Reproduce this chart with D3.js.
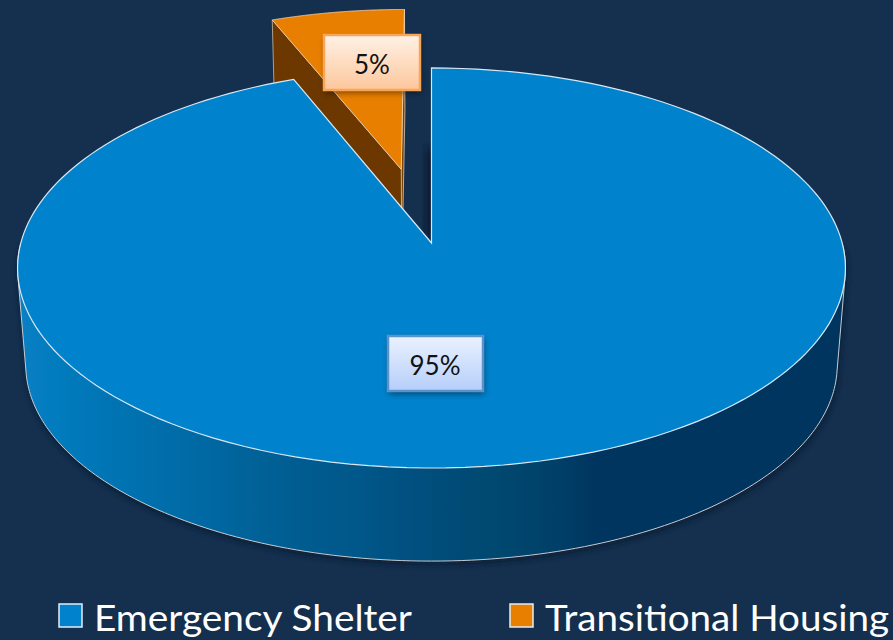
<!DOCTYPE html>
<html>
<head>
<meta charset="utf-8">
<title>Shelter share</title>
<style>
  html, body { margin: 0; padding: 0; background: #14304e; overflow: hidden; }
  text { font-family: Lato, "Open Sans", sans-serif; }
</style>
</head>
<body>
<script src="https://cdn.jsdelivr.net/npm/d3@7"></script>
<script>
// chart values
var categories = ["Emergency Shelter", "Transitional Housing"];
var shares = [95, 5];
var shareLabels = ["95%", "5%"];

var width = 893, height = 640;
var bg = "#14304e";

// projection of the tilted disc: model (u, v, z) -> screen
var cx = 431.5, cy = 243;
var persp = 0.125;      // foreshortening to the back
var spreadX = 1.243;    // the 3d rotation opens up angles near the top
var scaleX = 410.7, scaleY = 196.9;
var depth = 100, depthW = 0.02, tiltLoss = 12.2;
var explode = 0.40;

function project(u, v, z) {
  var w = 1 + persp * v + depthW * z;
  return [cx + scaleX * u / w, cy + (-(scaleY - tiltLoss * z) * v + depth * z) / w];
}
// d3 pie angle -> point on unit circle
function rim(a) {
  var s = Math.sin(a) * spreadX, c = Math.cos(a), n = Math.hypot(s, c);
  return [s / n, c / n];
}

var svg = d3.select("body").append("svg")
    .attr("width", width)
    .attr("height", height)
    .style("display", "block");

svg.append("rect").attr("width", width).attr("height", height).attr("fill", bg);

var defs = svg.append("defs");

function vGrad(id, top, bottom) {
  var g = defs.append("linearGradient").attr("id", id)
      .attr("x1", 0).attr("y1", 0).attr("x2", 0).attr("y2", 1);
  g.append("stop").attr("offset", 0).attr("stop-color", top);
  g.append("stop").attr("offset", 1).attr("stop-color", bottom);
}
vGrad("blueLabel", "#eaf2ff", "#b6cefa");
vGrad("orangeLabel", "#fff1e6", "#fdc79c");

var wallGrad = defs.append("linearGradient").attr("id", "wall")
    .attr("gradientUnits", "userSpaceOnUse")
    .attr("x1", 17).attr("y1", 0).attr("x2", 846).attr("y2", 0);
[[17, "#0a80c4"], [60, "#007bbd"], [130, "#0072b0"], [200, "#0069a4"], [255, "#006298"],
 [310, "#005b8f"], [360, "#005789"], [410, "#005080"], [450, "#004c78"], [500, "#00486f"],
 [560, "#003f68"], [595, "#00355f"], [846, "#00355f"]]
  .forEach(function(s) {
    wallGrad.append("stop").attr("offset", (s[0] - 17) / 829).attr("stop-color", s[1]);
  });

var f = defs.append("filter").attr("id", "soft")
    .attr("x", "-30%").attr("y", "-30%").attr("width", "160%").attr("height", "160%");
f.append("feGaussianBlur").attr("stdDeviation", 3);

var line = d3.line();
var pie = d3.pie().sort(null)
    .startAngle(0).endAngle(2 * Math.PI)
    .value(function(d) { return d; });

// first share runs clockwise from 12 o'clock, second one closes the circle
var arcs = pie(shares);
var main = arcs[0], small = arcs[1];

function sector(arc, du, dv, z) {
  var steps = d3.range(0, 181).map(function(i) {
    return arc.startAngle + (arc.endAngle - arc.startAngle) * i / 180;
  });
  var pts = [project(du, dv, z)];
  steps.forEach(function(a) {
    var p = rim(a);
    pts.push(project(p[0] + du, p[1] + dv, z));
  });
  return pts;
}

// exploded slice, moved along its own bisector
var mid = rim((small.startAngle + small.endAngle) / 2);
var du = mid[0] * explode, dv = mid[1] * explode;
var a0 = rim(small.startAngle), a1 = rim(small.endAngle);

function wallQuad(p) {
  return [project(du, dv, 0),
          project(p[0] + du, p[1] + dv, 0),
          project(p[0] + du, p[1] + dv, 1),
          project(du, dv, 1)];
}

// shadow inside the gap
svg.append("rect")
    .attr("x", 425).attr("y", 148)
    .attr("width", 8).attr("height", 90)
    .attr("fill", "#0c1f36")
    .attr("filter", "url(#soft)");

svg.append("path").attr("d", line(wallQuad(a1)) + "Z")
    .attr("fill", "#7a4300").attr("stroke", "#d9c8b4").attr("stroke-width", 0.8);
svg.append("path").attr("d", line(wallQuad(a0)) + "Z")
    .attr("fill", "#6c3800").attr("stroke", "#c9b9a5").attr("stroke-width", 0.8);
svg.append("path").attr("d", line(sector(small, du, dv, 0)) + "Z")
    .attr("fill", "#e97f00").attr("stroke", "#f4d8b8").attr("stroke-width", 0.8);

// front wall of the large slice
var wallPts = [];
d3.range(0, 361).forEach(function(i) {
  var a = i * Math.PI / 180, p = rim(a);
  if (p[1] < 0) {
    wallPts.push(project(p[0], p[1], 0));
    wallPts.push(project(p[0], p[1], 1));
  }
});
var hull = d3.polygonHull(wallPts);

svg.append("path").attr("d", line(hull) + "Z")
    .attr("fill", "#081a30")
    .attr("transform", "translate(1,3)")
    .attr("filter", "url(#soft)");
svg.append("path").attr("d", line(hull) + "Z")
    .attr("fill", "url(#wall)")
    .attr("stroke", "#c4ccd4").attr("stroke-width", 1);

svg.append("path").attr("d", line(sector(main, 0, 0, 0)) + "Z")
    .attr("fill", "#0082cc")
    .attr("stroke", "#d8e8f4").attr("stroke-width", 1.2);

// value labels
var labelBoxes = [
  {x: 388, y: 336, w: 95, h: 55, fill: "url(#blueLabel)", stroke: "#5a93cc", tx: 435, ty: 365},
  {x: 324, y: 35, w: 96, h: 55, fill: "url(#orangeLabel)", stroke: "#f8a557", tx: 372, ty: 64}
];
labelBoxes.forEach(function(b, i) {
  svg.append("rect")
      .attr("x", b.x + 1).attr("y", b.y + 3).attr("width", b.w).attr("height", b.h)
      .attr("fill", "#000").attr("opacity", 0.45).attr("filter", "url(#soft)");
  svg.append("rect")
      .attr("x", b.x).attr("y", b.y).attr("width", b.w).attr("height", b.h)
      .attr("fill", b.fill).attr("stroke", b.stroke).attr("stroke-width", 2.5);
  svg.append("text")
      .attr("x", b.tx).attr("y", b.ty)
      .attr("text-anchor", "middle").attr("dominant-baseline", "central")
      .attr("font-size", 26).attr("fill", "#111")
      .text(shareLabels[i]);
});

// legend
var legendX = d3.scaleOrdinal().domain(categories).range([59, 510]);
var legendW = d3.scaleOrdinal().domain(categories).range([318, 344]);
var colors = d3.scaleOrdinal().domain(categories).range(["#0082cc", "#e97f00"]);
var legend = svg.append("g").selectAll("g").data(categories).enter().append("g")
    .attr("transform", function(d) { return "translate(" + legendX(d) + ",0)"; });
legend.append("rect")
    .attr("y", 604).attr("width", 23).attr("height", 23)
    .attr("fill", function(d) { return colors(d); })
    .attr("stroke", "#e4edf4").attr("stroke-width", 1.5);
legend.append("text")
    .attr("x", 35).attr("y", 631)
    .attr("font-size", 37).attr("fill", "#fff")
    .attr("textLength", function(d) { return legendW(d); })
    .attr("lengthAdjust", "spacingAndGlyphs")
    .text(function(d) { return d; });
</script>
</body>
</html>
